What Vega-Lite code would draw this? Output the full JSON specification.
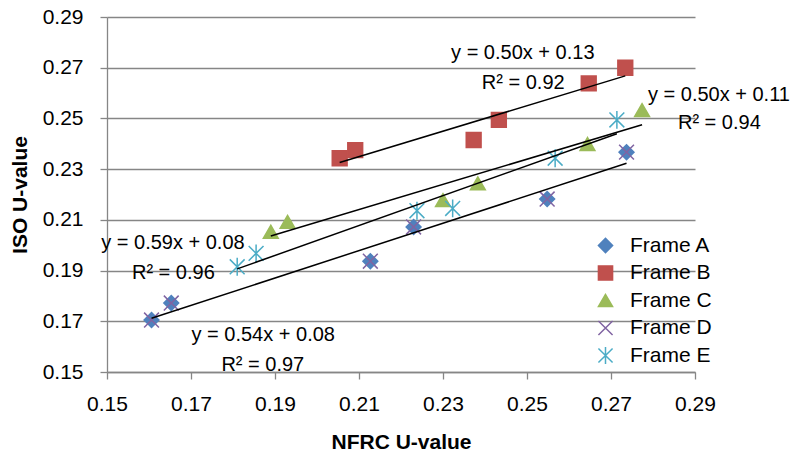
{
  "$schema": "https://vega.github.io/schema/vega-lite/v6.json",
  "width": 588,
  "height": 355,
  "autosize": {"type": "none"},
  "padding": {"left": 107, "top": 17, "right": 104, "bottom": 82},
  "background": "#ffffff",
  "config": {
    "view": {"stroke": null},
    "font": "Liberation Sans",
    "axis": {
      "labelFont": "Liberation Sans",
      "titleFont": "Liberation Sans",
      "labelFontSize": 21,
      "titleFontSize": 21,
      "titleFontWeight": "bold",
      "labelColor": "#000000",
      "titleColor": "#000000",
      "domainColor": "#868686",
      "domainWidth": 1.3,
      "tickColor": "#868686",
      "tickWidth": 1.3,
      "tickSize": 7,
      "gridColor": "#868686",
      "gridWidth": 1.3,
      "labelFlush": false,
      "labelOverlap": false
    },
    "legend": {
      "labelFont": "Liberation Sans",
      "labelFontSize": 21,
      "labelColor": "#000000",
      "padding": 0
    }
  },
  "datasets": {
    "pts": [
      {"series": "Frame A", "x": 0.1606, "y": 0.1705},
      {"series": "Frame A", "x": 0.1653, "y": 0.1772},
      {"series": "Frame A", "x": 0.2127, "y": 0.1937},
      {"series": "Frame A", "x": 0.2230, "y": 0.2072},
      {"series": "Frame A", "x": 0.2548, "y": 0.2182},
      {"series": "Frame A", "x": 0.2737, "y": 0.2367},
      {"series": "Frame B", "x": 0.2054, "y": 0.2343},
      {"series": "Frame B", "x": 0.2091, "y": 0.2375},
      {"series": "Frame B", "x": 0.2373, "y": 0.2415},
      {"series": "Frame B", "x": 0.2433, "y": 0.2494},
      {"series": "Frame B", "x": 0.2647, "y": 0.2638},
      {"series": "Frame B", "x": 0.2734, "y": 0.2700},
      {"series": "Frame C", "x": 0.1890, "y": 0.2053},
      {"series": "Frame C", "x": 0.1930, "y": 0.2092},
      {"series": "Frame C", "x": 0.2300, "y": 0.2178},
      {"series": "Frame C", "x": 0.2383, "y": 0.2244},
      {"series": "Frame C", "x": 0.2644, "y": 0.2399},
      {"series": "Frame C", "x": 0.2774, "y": 0.2533},
      {"series": "Frame D", "x": 0.1606, "y": 0.1705},
      {"series": "Frame D", "x": 0.1653, "y": 0.1772},
      {"series": "Frame D", "x": 0.2127, "y": 0.1937},
      {"series": "Frame D", "x": 0.2230, "y": 0.2072},
      {"series": "Frame D", "x": 0.2548, "y": 0.2182},
      {"series": "Frame D", "x": 0.2737, "y": 0.2367},
      {"series": "Frame E", "x": 0.1810, "y": 0.1915},
      {"series": "Frame E", "x": 0.1855, "y": 0.1968},
      {"series": "Frame E", "x": 0.2238, "y": 0.2136},
      {"series": "Frame E", "x": 0.2323, "y": 0.2145},
      {"series": "Frame E", "x": 0.2567, "y": 0.2343},
      {"series": "Frame E", "x": 0.2714, "y": 0.2494}
    ],
    "ann": [
      {"x": 0.2490, "y": 0.2757, "t": "y = 0.50x + 0.13"},
      {"x": 0.2491, "y": 0.2638, "t": "R² = 0.92"},
      {"x": 0.2957, "y": 0.2592, "t": "y = 0.50x + 0.11"},
      {"x": 0.2958, "y": 0.2481, "t": "R² = 0.94"},
      {"x": 0.1657, "y": 0.2007, "t": "y = 0.59x + 0.08"},
      {"x": 0.1658, "y": 0.1889, "t": "R² = 0.96"},
      {"x": 0.1872, "y": 0.1646, "t": "y = 0.54x + 0.08"},
      {"x": 0.1871, "y": 0.1527, "t": "R² = 0.97"}
    ]
  },
  "encoding": {
    "x": {
      "field": "x",
      "type": "quantitative",
      "scale": {"domain": [0.15, 0.29], "nice": false, "zero": false},
      "axis": {
        "title": "NFRC U-value",
        "values": [0.15, 0.17, 0.19, 0.21, 0.23, 0.25, 0.27, 0.29],
        "format": ".2f",
        "grid": false,
        "labelPadding": 14,
        "titlePadding": 17
      }
    },
    "y": {
      "field": "y",
      "type": "quantitative",
      "scale": {"domain": [0.15, 0.29], "nice": false, "zero": false},
      "axis": {
        "title": "ISO U-value",
        "values": [0.15, 0.17, 0.19, 0.21, 0.23, 0.25, 0.27, 0.29],
        "format": ".2f",
        "grid": true,
        "labelPadding": 17,
        "titlePadding": 12
      }
    }
  },
  "layer": [
    {
      "data": {"name": "pts"},
      "mark": {"type": "point", "opacity": 1, "strokeWidth": 1.5, "size": 220},
      "encoding": {
        "fill": {
          "field": "series",
          "type": "nominal",
          "scale": {
            "domain": ["Frame A", "Frame B", "Frame C", "Frame D", "Frame E"],
            "range": ["#4F81BD", "#C0504D", "#9BBB59", "transparent", "transparent"]
          },
          "legend": {"title": null, "orient": "none", "legendX": 488, "legendY": 218, "symbolSize": 200, "symbolStrokeWidth": 1.5, "labelOffset": 14, "rowPadding": 5.5}
        },
        "stroke": {
          "field": "series",
          "type": "nominal",
          "scale": {
            "domain": ["Frame A", "Frame B", "Frame C", "Frame D", "Frame E"],
            "range": ["#4F81BD", "#C0504D", "#9BBB59", "#8064A2", "#4BACC6"]
          },
          "legend": {"title": null, "orient": "none", "legendX": 488, "legendY": 218, "symbolSize": 200, "symbolStrokeWidth": 1.5, "labelOffset": 14, "rowPadding": 5.5}
        },
        "shape": {
          "field": "series",
          "type": "nominal",
          "scale": {
            "domain": ["Frame A", "Frame B", "Frame C", "Frame D", "Frame E"],
            "range": ["diamond", "square", "triangle-up", "M-1,-1L1,1M-1,1L1,-1", "M-1,-1L1,1M-1,1L1,-1M0,-1.2L0,1.2"]
          },
          "legend": {"title": null, "orient": "none", "legendX": 488, "legendY": 218, "symbolSize": 200, "symbolStrokeWidth": 1.5, "labelOffset": 14, "rowPadding": 5.5}
        }
      }
    },
    {
      "data": {"name": "pts"},
      "transform": [
        {"filter": "datum.series !== 'Frame D'"},
        {"regression": "y", "on": "x", "groupby": ["series"]}
      ],
      "mark": {"type": "line", "color": "#000000", "strokeWidth": 1.5},
      "encoding": {
        "detail": {"field": "series", "type": "nominal"}
      }
    },
    {
      "data": {"name": "ann"},
      "mark": {"type": "text", "align": "center", "baseline": "middle", "fontSize": 20, "color": "#000000", "font": "Liberation Sans"},
      "encoding": {
        "text": {"field": "t", "type": "nominal"}
      }
    }
  ]
}
